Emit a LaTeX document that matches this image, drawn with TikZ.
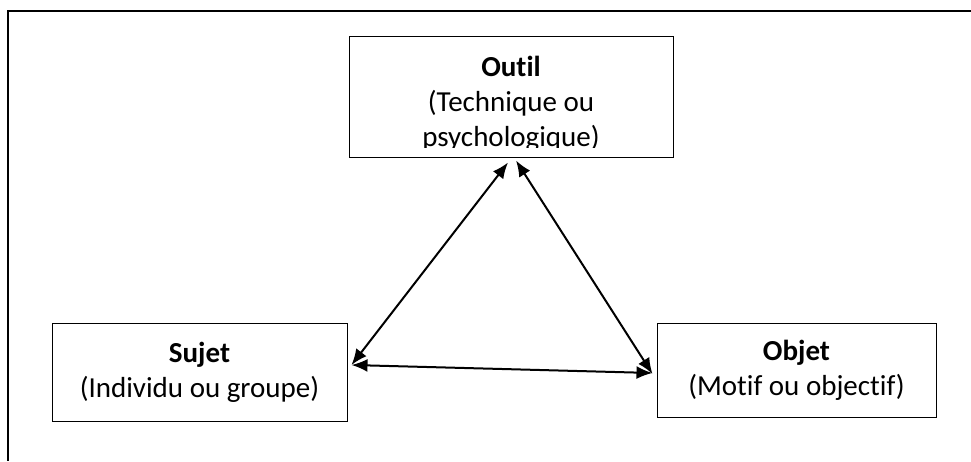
\documentclass[tikz,border=0pt]{standalone}
\usepackage{fontspec}
\setmainfont{Carlito}[Ligatures=NoCommon]
\usetikzlibrary{arrows.meta}
\begin{document}
\begin{tikzpicture}[x=1pt,y=1pt,
		box/.style={draw,line width=1pt,inner sep=0pt,align=center,font=\fontsize{29}{35}\selectfont},
		link/.style={line width=2pt,{Latex[length=16pt,width=13pt]}-{Latex[length=16pt,width=13pt]}}]
				\useasboundingbox (0,0) rectangle (971,461);
				\draw [line width=1.2pt] (971,450) -- (8,450) -- (8,0);
				\node [box,minimum width=324pt,minimum height=121pt] (Outil) at (511,363.5) {};
				\begin{scope}
					\clip (349,313) rectangle (673,424);
					\node [align=center,font=\fontsize{29}{35}\selectfont] (OutilText) at (511,357) {\textbf{Outil}\\(Technique ou\\psychologique)};
				\end{scope}
				\node [box,minimum width=295pt,minimum height=98pt] (Sujet) at (199.5,89) {\textbf{Sujet}\\(Individu ou groupe)};
				\node [box,minimum width=279pt,minimum height=94pt] (Objet) at (796.5,91) {\textbf{Objet}\\(Motif ou objectif)};
				\draw [link] ([xshift=4pt,yshift=7pt]Sujet.east) -- ([xshift=-3pt,yshift=-4pt]Outil.south);
				\draw [link] ([xshift=5pt,yshift=-2pt]Outil.south) -- ([xshift=-4pt,yshift=-4pt]Objet.west);
				\draw [link] ([xshift=4pt,yshift=7pt]Sujet.east) -- ([xshift=-4pt,yshift=-3pt]Objet.west);
			\end{tikzpicture}
\end{document}
